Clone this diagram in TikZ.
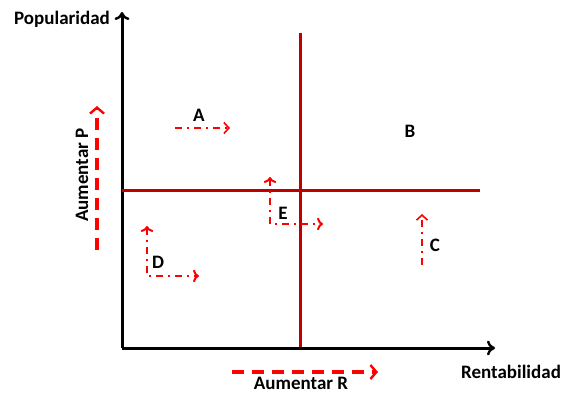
\documentclass[tikz,border=0pt]{standalone}
\usepackage{fontspec}
\setmainfont{Carlito}
\usetikzlibrary{arrows.meta}
\definecolor{ejes}{HTML}{C00000}
\definecolor{flecha}{HTML}{FF0000}
\begin{document}
\begin{tikzpicture}[x=1pt,y=-1pt,font=\fontsize{19}{21}\selectfont\bfseries,
  eje/.style={line width=3pt, -{To[length=8pt,width=15pt,line width=2.4pt]}},
  cuadrante/.style={line width=3pt, ejes},
  mover/.style={flecha, line width=2pt, dash pattern=on 7pt off 5pt on 2pt off 5pt,
    -{Straight Barb[length=5pt,width=11pt,line width=1.6pt]}},
  aumentar/.style={flecha, line width=3.4pt, dash pattern=on 12pt off 8pt,
    -{Straight Barb[length=6pt,width=14pt,line width=2.4pt]}}]
  \useasboundingbox (0,0) rectangle (563,394);
  % ejes
  \coordinate (O) at (122,348);
  \coordinate (Ytop) at (122,12);
  \coordinate (Xend) at (495,348);
  \draw[eje] (O) -- (Ytop);
  \draw[eje] (O) -- (Xend);
  \node (pop) at (62,19) {Popularidad};
  \node (ren) at (511,372) {Rentabilidad};
  % cuadrantes
  \coordinate (Vtop) at (300,33);
  \coordinate (Vbot) at (300,347);
  \coordinate (Hleft) at (122,190);
  \coordinate (Hright) at (480,190);
  \draw[cuadrante] (Vbot) -- (Vtop);
  \draw[cuadrante] (Hleft) -- (Hright);
  % sentido de aumento
  \coordinate (R0) at (232,372);
  \coordinate (R1) at (378,372);
  \draw[aumentar] (R0) -- (R1);
  \node (aumR) at (301,383) {Aumentar R};
  \coordinate (P0) at (97,250);
  \coordinate (P1) at (97,106);
  \draw[aumentar] (P0) -- (P1);
  \node[rotate=90] (aumP) at (82,175) {Aumentar P};
  % productos
  \node (A) at (199,115) {A};
  \draw[mover] (175,128) -- (230,128);
  \node (B) at (410,131) {B};
  \node (C) at (435,245) {C};
  \draw[mover] (422,265) -- (422,214);
  \node (D) at (158,262) {D};
  \draw[mover, <->] (147,226) |- (199,276);
  \node (E) at (283,213) {E};
  \draw[mover, <->] (270,177) |- (323,224);
\end{tikzpicture}
\end{document}
